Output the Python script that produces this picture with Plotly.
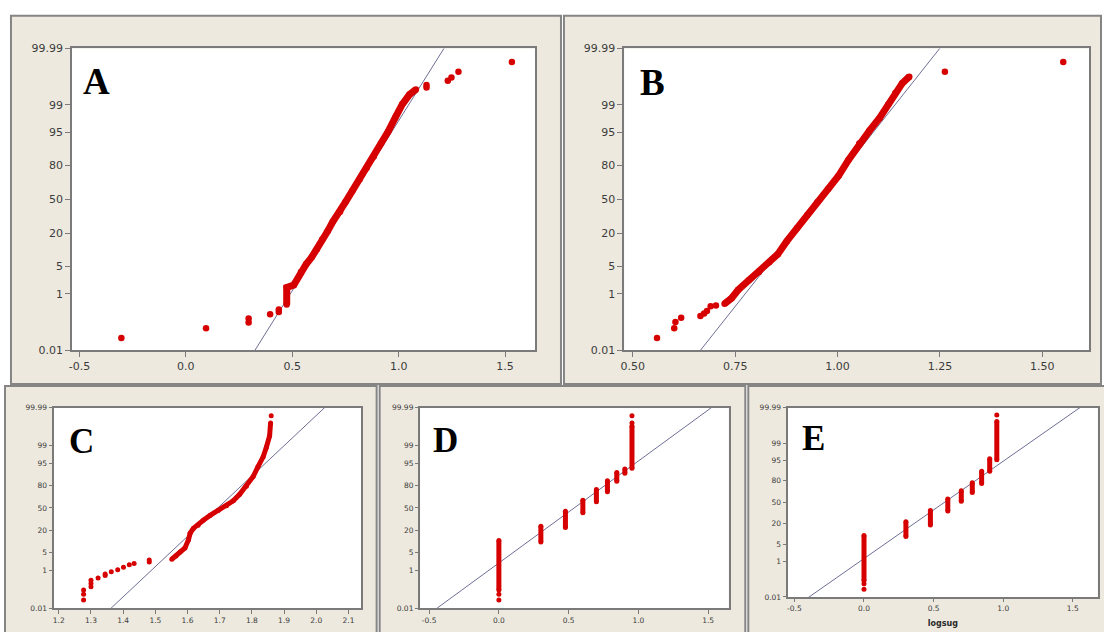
import plotly.graph_objects as go
from statistics import NormalDist

_nd = NormalDist()


def nscore(p):
    """Percent -> standard normal score (probability-paper y coordinate)."""
    return _nd.inv_cdf(p / 100.0)


# ---------------- data ----------------
pct_ticks = [0.01, 1, 5, 20, 50, 80, 95, 99, 99.99]
pct_labels = ["0.01", "1", "5", "20", "50", "80", "95", "99", "99.99"]

# Panel A
a_dots_x = [-0.303, 0.095, 0.295, 0.295, 0.396, 0.437, 0.437, 1.131, 1.131, 1.231, 1.248, 1.281, 1.532]
a_dots_p = [0.032, 0.075, 0.122, 0.167, 0.233, 0.28, 0.336, 99.71, 99.76, 99.825, 99.865, 99.917, 99.964]
a_band_x = [0.474, 0.474, 0.507, 0.541, 0.566, 0.591, 0.616, 0.641, 0.666, 0.691, 0.725, 0.750,
            0.783, 0.817, 0.850, 0.883, 0.917, 0.950, 0.984, 1.017, 1.051, 1.081]
a_band_p = [0.48, 1.5, 1.75, 3.69, 5.6, 7.7, 11.0, 16.2, 21.6, 29.3, 38.0, 47.4,
            58.6, 69.0, 78.2, 85.5, 91.6, 95.2, 97.8, 99.04, 99.51, 99.66]
a_fit = (0.7685, 0.1195)
a_xticks = [-0.5, 0.0, 0.5, 1.0, 1.5]

# Panel B
b_dots_x = [0.559, 0.601, 0.604, 0.618, 0.665, 0.674, 0.681, 0.690, 0.703, 1.262, 1.551]
b_dots_p = [0.032, 0.075, 0.128, 0.18, 0.205, 0.25, 0.30, 0.43, 0.45, 99.917, 99.964]
b_band_x = [0.724, 0.741, 0.757, 0.783, 0.808, 0.833, 0.854, 0.876, 0.901, 0.926, 0.951, 0.977,
            1.002, 1.027, 1.053, 1.078, 1.103, 1.124, 1.141, 1.158, 1.175]
b_band_p = [0.51, 0.75, 1.29, 2.33, 3.69, 6.1, 8.9, 15.2, 24.0, 35.0, 47.4, 60.1,
            71.8, 83.6, 91.6, 95.5, 97.8, 99.04, 99.56, 99.79, 99.875]
b_fit = (0.957, 0.0786)
b_xticks = [0.50, 0.75, 1.00, 1.25, 1.50]

# Panel C
c_dots_x = [1.277, 1.277, 1.277, 1.300, 1.300, 1.300, 1.322, 1.344, 1.344, 1.363, 1.383,
            1.401, 1.419, 1.434, 1.481, 1.481, 1.860]
c_dots_p = [0.033, 0.069, 0.118, 0.175, 0.255, 0.37, 0.47, 0.62, 0.73, 0.91, 1.10,
            1.39, 1.76, 1.98, 2.28, 2.71, 99.968]
c_band_x = [1.551, 1.564, 1.577, 1.592, 1.603, 1.608, 1.618, 1.633, 1.649, 1.670, 1.695,
            1.721, 1.742, 1.762, 1.783, 1.804, 1.819, 1.835, 1.845, 1.855, 1.858]
c_band_p = [2.87, 3.75, 5.1, 6.9, 11.9, 17.4, 22.4, 26.2, 32.4, 39.1, 46.2,
            53.4, 60.4, 69.3, 79.0, 87.8, 93.7, 97.1, 98.78, 99.62, 99.918]
c_fit = (1.694, 0.0893)
c_xticks = [1.2, 1.3, 1.4, 1.5, 1.6, 1.7, 1.8, 1.9, 2.0, 2.1]

# Panels D and E: tied values form vertical runs (value, lowest %, highest %)
logsug_levels = [0.0, 0.301, 0.477, 0.602, 0.699, 0.778, 0.845, 0.903, 0.954]

d_run_lo = [0.118, 10.3, 23.5, 42.9, 59.0, 72.6, 83.8, 90.1, 92.9]
d_run_hi = [11.4, 25.0, 45.2, 61.4, 75.4, 84.4, 90.5, 92.6, 99.878]
d_dots_x = [0.0, 0.0, 0.954, 0.954]
d_dots_p = [0.033, 0.069, 99.918, 99.968]
d_fit = (0.5395, 0.2647)

e_run_lo = [0.105, 8.9, 18.5, 36.5, 51.5, 65.0, 76.8, 88.8, 95.2]
e_run_hi = [9.5, 22.1, 37.4, 55.1, 67.3, 77.9, 88.8, 95.6, 99.923]
e_dots_x = [0.0, 0.0, 0.954]
e_dots_p = [0.031, 0.068, 99.969]
e_fit = (0.579, 0.2615)

de_xticks = [-0.5, 0.0, 0.5, 1.0, 1.5]

# ---------------- styling / layout ----------------
W, H = 1104, 632
RED = "#D60000"
FIT = "#6E6E96"
FRAME_FILL = "#EDE9DE"
FRAME_LINE = "#858585"
AXIS_LINE = "#7A7A7A"
TICK_TXT = "#3C3C3C"
Z_LIM = nscore(99.99)


def px_x(v):
    return v / W


def px_y(v):
    return 1 - v / H


panels = [
    dict(letter="A", box=(68.3, 43.3, 533.2, 351.7), frame=(7, 10, 559, 386),
         xr=(-0.5347, 1.642), xt=a_xticks, fmt="{:.1f}", fs=11, tl=5, ms=6.5, lw=7,
         lpos=(77, 77), lsize=37,
         dots=(a_dots_x, a_dots_p), band=(a_band_x, a_band_p), runs=None, fit=a_fit),
    dict(letter="B", box=(622.5, 43.3, 1089.0, 351.7), frame=(562, 10, 1101, 386),
         xr=(0.479, 1.614), xt=b_xticks, fmt="{:.2f}", fs=11, tl=5, ms=6.5, lw=7,
         lpos=(636, 78.5), lsize=37,
         dots=(b_dots_x, b_dots_p), band=(b_band_x, b_band_p), runs=None, fit=b_fit),
    dict(letter="C", box=(50.0, 410.0, 358.3, 615.0), frame=(1, 388, 374, 645),
         xr=(1.1845, 2.139), xt=c_xticks, fmt="{:.1f}", fs=7.5, tl=3.5, ms=5, lw=5,
         lpos=(63, 445), lsize=35,
         dots=(c_dots_x, c_dots_p), band=(c_band_x, c_band_p), runs=None, fit=c_fit),
    dict(letter="D", box=(417.7, 410.0, 727.3, 615.0), frame=(377, 388, 744, 645),
         xr=(-0.564, 1.647), xt=de_xticks, fmt="{:.1f}", fs=7.5, tl=3.5, ms=5, lw=5,
         lpos=(429, 443.5), lsize=35,
         dots=(d_dots_x, d_dots_p), band=None, runs=(logsug_levels, d_run_lo, d_run_hi), fit=d_fit),
    dict(letter="E", box=(786.7, 410.0, 1097.7, 603.3), frame=(747, 388, 1108, 645),
         xr=(-0.547, 1.679), xt=de_xticks, fmt="{:.1f}", fs=7.5, tl=3.5, ms=5, lw=5,
         lpos=(799, 441.5), lsize=35, xtitle="logsug",
         dots=(e_dots_x, e_dots_p), band=None, runs=(logsug_levels, e_run_lo, e_run_hi), fit=e_fit),
]

fig = go.Figure()
shapes = []
annotations = []
layout_axes = {}

for i, pn in enumerate(panels, start=1):
    xa = "x" if i == 1 else f"x{i}"
    ya = "y" if i == 1 else f"y{i}"
    x0, y0, x1, y1 = pn["box"]
    fx0, fy0, fx1, fy1 = pn["frame"]

    # beige window frame and white plotting region
    shapes.append(dict(type="rect", xref="paper", yref="paper", layer="below",
                       x0=px_x(fx0), x1=px_x(fx1), y0=px_y(fy1), y1=px_y(fy0),
                       fillcolor=FRAME_FILL, line=dict(color=FRAME_LINE, width=2)))
    shapes.append(dict(type="rect", xref="paper", yref="paper", layer="below",
                       x0=px_x(x0), x1=px_x(x1), y0=px_y(y1), y1=px_y(y0),
                       fillcolor="white", line=dict(width=0)))

    # fitted normal reference line
    mu, sd = pn["fit"]
    lx = [pn["xr"][0], pn["xr"][1]]
    fig.add_trace(go.Scatter(x=lx, y=[(v - mu) / sd for v in lx], mode="lines",
                             line=dict(color=FIT, width=1), xaxis=xa, yaxis=ya,
                             hoverinfo="skip"))

    # dense stretches of ordered observations
    if pn["band"] is not None:
        bx, bp = pn["band"]
        fig.add_trace(go.Scatter(x=bx, y=[nscore(p) for p in bp], mode="lines+markers",
                                 line=dict(color=RED, width=pn["lw"]),
                                 marker=dict(color=RED, size=pn["ms"]),
                                 xaxis=xa, yaxis=ya))
    if pn["runs"] is not None:
        lv, lo, hi = pn["runs"]
        rx, ry = [], []
        for v, a, b in zip(lv, lo, hi):
            rx += [v, v, None]
            ry += [nscore(a), nscore(b), None]
        fig.add_trace(go.Scatter(x=rx, y=ry, mode="lines+markers",
                                 line=dict(color=RED, width=pn["lw"]),
                                 marker=dict(color=RED, size=pn["ms"]),
                                 xaxis=xa, yaxis=ya))

    # isolated observations
    dx, dp = pn["dots"]
    fig.add_trace(go.Scatter(x=dx, y=[nscore(p) for p in dp], mode="markers",
                             marker=dict(color=RED, size=pn["ms"]),
                             xaxis=xa, yaxis=ya))

    tick_font = dict(family="DejaVu Sans", size=pn["fs"], color=TICK_TXT)
    xaxis = dict(domain=[px_x(x0), px_x(x1)], range=list(pn["xr"]), anchor=ya,
                 tickvals=pn["xt"], ticktext=[pn["fmt"].format(v) for v in pn["xt"]],
                 ticks="outside", ticklen=pn["tl"], tickcolor=AXIS_LINE, tickwidth=1,
                 showline=True, mirror=True, linecolor=AXIS_LINE, linewidth=1.5,
                 showgrid=False, zeroline=False, tickfont=tick_font, fixedrange=True)
    if pn.get("xtitle"):
        xaxis["title"] = dict(text="<b>" + pn["xtitle"] + "</b>", standoff=8,
                              font=dict(family="DejaVu Sans", size=8, color="#2A2A2A"))
    yaxis = dict(domain=[px_y(y1), px_y(y0)], range=[-Z_LIM, Z_LIM], anchor=xa,
                 tickvals=[nscore(p) for p in pct_ticks], ticktext=pct_labels,
                 ticks="outside", ticklen=pn["tl"], tickcolor=AXIS_LINE, tickwidth=1,
                 showline=True, mirror=True, linecolor=AXIS_LINE, linewidth=1.5,
                 showgrid=False, zeroline=False, tickfont=tick_font, fixedrange=True)
    layout_axes["xaxis" if i == 1 else f"xaxis{i}"] = xaxis
    layout_axes["yaxis" if i == 1 else f"yaxis{i}"] = yaxis

    lx_px, ly_px = pn["lpos"]
    annotations.append(dict(text="<b>" + pn["letter"] + "</b>", xref="paper", yref="paper",
                            x=px_x(lx_px), y=px_y(ly_px), xanchor="left", yanchor="middle",
                            showarrow=False,
                            font=dict(family="Liberation Serif", size=pn["lsize"], color="black")))

fig.update_layout(
    width=W, height=H, margin=dict(l=0, r=0, t=0, b=0),
    paper_bgcolor="white", plot_bgcolor="white",
    showlegend=False, shapes=shapes, annotations=annotations,
    **layout_axes,
)

fig.write_html("out.html")
